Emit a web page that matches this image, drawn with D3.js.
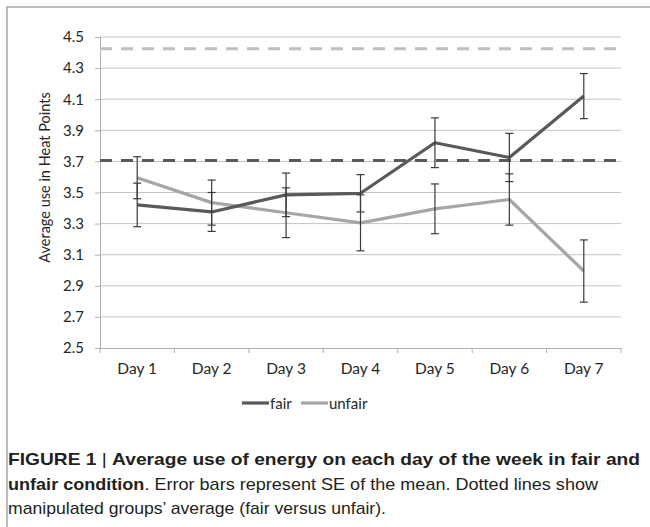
<!DOCTYPE html>
<html>
<head>
<meta charset="utf-8">
<title>Average use of energy</title>
<script src="https://d3js.org/d3.v7.min.js"></script>
<style>
  body { margin: 0; background: #fff; }
  text { font-family: Lato, 'Open Sans', sans-serif; }
  .cap { font-family: 'Liberation Sans', Arial, sans-serif; }
</style>
</head>
<body>
<div id="chart"></div>
<script>
// ******* Data *******
const days = ["Day 1", "Day 2", "Day 3", "Day 4", "Day 5", "Day 6", "Day 7"];
const fair = [3.42, 3.375, 3.485, 3.495, 3.82, 3.725, 4.12];
const fairSE = [0.14, 0.125, 0.14, 0.12, 0.16, 0.155, 0.145];
const unfair = [3.595, 3.435, 3.37, 3.305, 3.395, 3.455, 2.995];
const unfairSE = [0.135, 0.145, 0.16, 0.18, 0.16, 0.165, 0.2];
const groupAverages = [3.705, 4.425];   // fair, unfair
const yTicks = [2.5, 2.7, 2.9, 3.1, 3.3, 3.5, 3.7, 3.9, 4.1, 4.3, 4.5];

const width = 650, height = 527;
const plot = { left: 100, right: 621, top: 37, bottom: 348 };
const fairColor = "#595959", unfairColor = "#a6a6a6";
const textColor = "#262626";

const svg = d3.select("#chart").append("svg")
    .attr("width", width)
    .attr("height", height);

// outer frame
svg.append("rect")
    .attr("x", 7).attr("y", 7)
    .attr("width", 700).attr("height", 600)
    .attr("fill", "none")
    .attr("stroke", "#9a9a9a")
    .attr("stroke-width", 1.3);

// ******* Scales *******
const x = d3.scaleBand().domain(days).range([plot.left, plot.right]);
const y = d3.scaleLinear().domain([2.5, 4.5]).range([plot.bottom, plot.top]);
const cx = d => x(d) + x.bandwidth() / 2;

// gridlines
svg.append("g").selectAll("line")
    .data(yTicks.slice(1))
    .join("line")
    .attr("x1", plot.left).attr("x2", plot.right)
    .attr("y1", d => y(d)).attr("y2", d => y(d))
    .attr("stroke", "#c4c4c4").attr("stroke-width", 1);

// ******* Axes *******
const yAxis = svg.append("g")
    .attr("transform", `translate(${plot.left},0)`)
    .call(d3.axisLeft(y).tickValues(yTicks).tickFormat(d3.format(".1f")).tickSize(5).tickPadding(11));
yAxis.select(".domain").attr("stroke", "#b0b0b0");
yAxis.selectAll(".tick line").attr("stroke", "#b0b0b0");
yAxis.selectAll(".tick text").attr("fill", textColor).style("font-size", "15px")
    .style("font-family", "Lato, sans-serif");

const xAxis = svg.append("g")
    .attr("transform", `translate(0,${plot.bottom})`)
    .call(d3.axisBottom(x).tickSize(0).tickPadding(15));
xAxis.select(".domain").attr("stroke", "#b0b0b0");
xAxis.selectAll(".tick text").attr("fill", textColor).style("font-size", "15.5px")
    .style("font-family", "Lato, sans-serif");
// category boundary ticks
svg.append("g").selectAll("line")
    .data(days.concat(["end"]))
    .join("line")
    .attr("x1", (d, i) => i < days.length ? x(d) : plot.right)
    .attr("x2", (d, i) => i < days.length ? x(d) : plot.right)
    .attr("y1", plot.bottom).attr("y2", plot.bottom + 5)
    .attr("stroke", "#b0b0b0");

svg.append("text")
    .attr("transform", `translate(50,${(plot.top + plot.bottom) / 2 - 15}) rotate(-90)`)
    .attr("text-anchor", "middle")
    .attr("fill", textColor)
    .style("font-size", "14.5px")
    .text("Average use in Heat Points");

// ******* Group averages (dashed) *******
svg.append("g").selectAll("line")
    .data(groupAverages)
    .join("line")
    .attr("x1", plot.left).attr("x2", plot.right - 4)
    .attr("y1", d => y(d)).attr("y2", d => y(d))
    .attr("stroke", (d, i) => i === 0 ? fairColor : "#bfbfbf")
    .attr("stroke-width", 3)
    .attr("stroke-dasharray", "12,9");

// ******* Lines *******
const line = d3.line().x((d, i) => cx(days[i])).y(d => y(d));
[[unfair, unfairColor], [fair, fairColor]].forEach(([vals, col]) => {
  svg.append("path")
      .attr("d", line(vals))
      .attr("fill", "none")
      .attr("stroke", col)
      .attr("stroke-width", 3.2)
      .attr("stroke-linejoin", "round");
});

// ******* Error bars *******
[[fair, fairSE], [unfair, unfairSE]].forEach(([vals, se]) => {
  const g = svg.append("g").attr("stroke", "#3a3a3a").attr("stroke-width", 1.2);
  vals.forEach((v, i) => {
    const px = cx(days[i]);
    g.append("line").attr("x1", px).attr("x2", px).attr("y1", y(v - se[i])).attr("y2", y(v + se[i]));
    [v - se[i], v + se[i]].forEach(e => {
      g.append("line").attr("x1", px - 4).attr("x2", px + 4).attr("y1", y(e)).attr("y2", y(e));
    });
  });
});

// ******* Legend *******
const legend = [["fair", fairColor, 242], ["unfair", unfairColor, 301]];
legend.forEach(([name, col, lx]) => {
  svg.append("line")
      .attr("x1", lx).attr("x2", lx + 27)
      .attr("y1", 403).attr("y2", 403)
      .attr("stroke", col).attr("stroke-width", 3.2);
  svg.append("text")
      .attr("x", lx + 28).attr("y", 408.5)
      .attr("fill", textColor)
      .style("font-size", "15px")
      .text(name);
});

// ******* Caption *******
const captionLines = [
  [["FIGURE 1", true], [" | ", false], ["Average use of energy on each day of the week in fair and", true]],
  [["unfair condition", true], [". Error bars represent SE of the mean. Dotted lines show", false]],
  [["manipulated groups\u2019 average (fair versus unfair).", false]]
];
const captionEnds = [640, 598, 386];
captionLines.forEach((parts, li) => {
  const t = svg.append("text")
      .attr("class", "cap")
      .attr("x", 8)
      .attr("y", 465 + li * 24.5)
      .attr("fill", "#231f20")
      .style("font-size", "17px")
      .attr("textLength", captionEnds[li] - 8)
      .attr("lengthAdjust", "spacingAndGlyphs");
  parts.forEach(([s, bold]) => {
    t.append("tspan").attr("font-weight", bold ? "bold" : "normal").text(s);
  });
});
</script>
</body>
</html>
